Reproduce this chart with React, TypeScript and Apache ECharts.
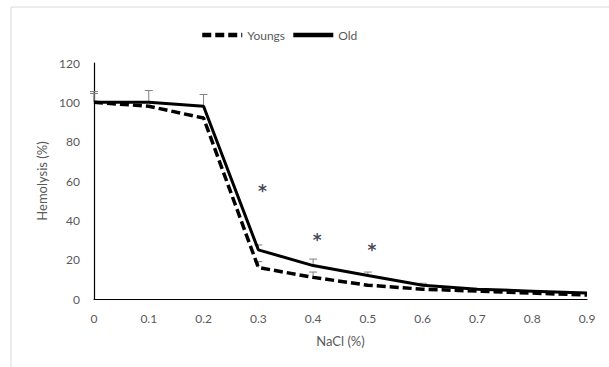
import React, { useEffect, useRef } from "react";
import * as echarts from "echarts";

const nacl = [0, 0.1, 0.2, 0.3, 0.4, 0.5, 0.6, 0.7, 0.8, 0.9];
const youngs = [100, 98, 92, 16, 11, 7, 5, 4, 3, 2];
const old = [100, 100, 98, 25, 17, 12, 7, 5, 4, 3];
const youngsErr = [4.5, 0, 0, 3, 2.7, 0, 0, 0, 0, 0];
const oldErr = [5.5, 6, 6, 2.5, 3.3, 1.7, 1, 0, 0, 0];
const starX = [0.3, 0.4, 0.5];
const starY = [56, 31, 26];
const yTicks = { min: 0, max: 120, interval: 20 };
const xTicks = { min: 0, max: 0.9, interval: 0.1 };

const FONT = "Lato";
const TXT = "#595959";

export default function App() {
  const ref = useRef<HTMLDivElement>(null);
  useEffect(() => {
    document.body.style.margin = "0";
    const chart = echarts.init(ref.current!, undefined, { renderer: "svg" });
    const errData: number[][] = [];
    nacl.forEach((x, i) => {
      if (oldErr[i] > 0) errData.push([x, old[i], oldErr[i]]);
      if (youngsErr[i] > 0) errData.push([x, youngs[i], youngsErr[i]]);
    });
    chart.setOption({
      animation: false,
      graphic: [
        {
          type: "rect",
          shape: { x: 11, y: 7, width: 700, height: 400 },
          style: { fill: "none", stroke: "#d9d9d9", lineWidth: 1 },
          silent: true,
          z: -10,
        },
      ],
      legend: {
        left: 195,
        top: 24,
        itemWidth: 40,
        itemHeight: 12,
        itemGap: 6,
        data: ["Youngs", "Old"],
        itemStyle: { opacity: 0 },
        lineStyle: { width: 4.5 },
        textStyle: { color: TXT, fontFamily: FONT, fontSize: 12 },
      },
      grid: { left: 94, right: 22, top: 63, bottom: 68 },
      xAxis: {
        type: "value",
        min: xTicks.min,
        max: xTicks.max,
        interval: xTicks.interval,
        name: "NaCl (%)",
        nameLocation: "middle",
        nameGap: 35,
        nameTextStyle: { color: TXT, fontFamily: FONT, fontSize: 13 },
        axisLine: { lineStyle: { color: "#000", width: 1.2 } },
        axisTick: { show: false },
        splitLine: { show: false },
        axisLabel: {
          color: TXT,
          fontFamily: FONT,
          fontSize: 12,
          margin: 13,
          formatter: (v: number) => String(parseFloat(v.toFixed(1))),
        },
      },
      yAxis: {
        type: "value",
        min: yTicks.min,
        max: yTicks.max,
        interval: yTicks.interval,
        name: "Hemolysis (%)",
        nameLocation: "middle",
        nameGap: 38,
        nameTextStyle: { color: TXT, fontFamily: FONT, fontSize: 13 },
        axisLine: { show: true, lineStyle: { color: "#000", width: 1.2 } },
        axisTick: { show: false },
        splitLine: { show: false },
        axisLabel: { color: TXT, fontFamily: FONT, fontSize: 12, margin: 14 },
      },
      series: [
        {
          type: "custom",
          name: "err",
          z: 1,
          clip: false,
          data: errData,
          renderItem: (params: any, api: any) => {
            const x = api.value(0);
            const y = api.value(1);
            const e = api.value(2);
            const p0 = api.coord([x, y]);
            const p1 = api.coord([x, y + e]);
            const st = { stroke: "#808080", lineWidth: 1 };
            return {
              type: "group",
              children: [
                { type: "line", shape: { x1: p0[0], y1: p0[1], x2: p1[0], y2: p1[1] }, style: st },
                { type: "line", shape: { x1: p1[0] - 4, y1: p1[1], x2: p1[0] + 4, y2: p1[1] }, style: st },
              ],
            };
          },
        },
        {
          type: "line",
          name: "Youngs",
          z: 3,
          data: nacl.map((x, i) => [x, youngs[i]]),
          symbol: "none",
          itemStyle: { color: "#000" },
          lineStyle: { color: "#000", width: 3.5, type: [9, 4] },
        },
        {
          type: "line",
          name: "Old",
          z: 4,
          data: nacl.map((x, i) => [x, old[i]]),
          symbol: "none",
          itemStyle: { color: "#000" },
          lineStyle: { color: "#000", width: 3 },
        },
        {
          type: "scatter",
          name: "sig",
          z: 5,
          symbolSize: 0,
          data: starX.map((x, i) => [x, starY[i]]),
          label: {
            show: true,
            position: "inside",
            offset: [4, 2],
            formatter: "*",
            color: "#14142e",
            fontSize: 17,
            fontWeight: "bold",
            fontFamily: "DejaVu Sans",
          },
        },
      ],
    });
    return () => chart.dispose();
  }, []);
  return <div ref={ref} style={{ width: 609, height: 367 }} />;
}
